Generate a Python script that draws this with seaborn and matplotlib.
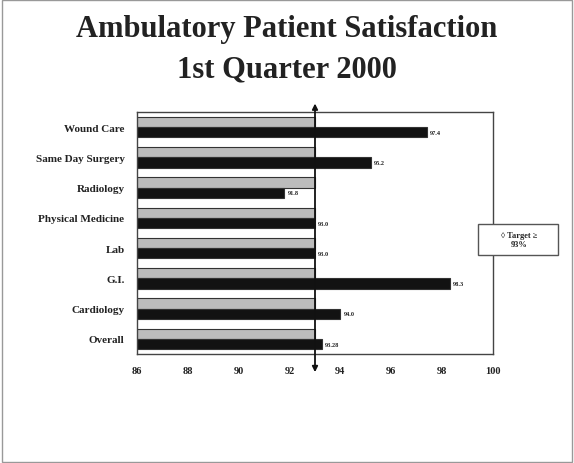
import matplotlib
matplotlib.use("Agg")
import matplotlib.pyplot as plt
import matplotlib.transforms as mtransforms
from matplotlib.patches import Rectangle
import seaborn as sns
import pandas as pd

categories = ["Wound Care", "Same Day Surgery", "Radiology", "Physical Medicine",
              "Lab", "G.I.", "Cardiology", "Overall"]
target_values = [93, 93, 93, 93, 93, 93, 93, 93]
actual_values = [97.4, 95.2, 91.8, 93.0, 93.0, 98.3, 94.0, 93.28]
actual_labels = ["97.4", "95.2", "91.8", "93.0", "93.0", "98.3", "94.0", "93.28"]
series_names = ["Target", "Actual"]
x_ticks = [86, 88, 90, 92, 94, 96, 98, 100]
target_line = 93

sns.set_theme(style="white")
plt.rcParams['font.family'] = ['Liberation Serif', 'DejaVu Serif']

df = pd.DataFrame({
    "category": categories * 2,
    "series": [series_names[0]] * len(categories) + [series_names[1]] * len(categories),
    "value": target_values + actual_values,
})

fig = plt.figure(figsize=(5.74, 4.64), dpi=100)
ax = fig.add_axes([137/574, 1-355/464, (493-137)/574, (355-113)/464])

sns.barplot(data=df, y="category", x="value", hue="series", order=categories,
            hue_order=series_names, palette=["#bcbcbc", "#121212"], orient="h",
            width=0.68, edgecolor="#333333", linewidth=0.8, ax=ax, legend=False)

ax.set_xlim(86, 100)
ax.set_xticks(x_ticks)
ax.set_xticklabels([str(t) for t in x_ticks], fontsize=7.5, fontweight="bold", color="#222222")
ax.set_yticklabels(categories, fontsize=8, fontweight="bold", color="#222222")
ax.set_xlabel("")
ax.set_ylabel("")
for s in ax.spines.values():
    s.set_color("#444444")
    s.set_linewidth(1.0)
ax.tick_params(axis="x", length=3, width=0.8, color="#666666", direction="in", pad=9)
ax.tick_params(axis="y", length=0, pad=9)
ax.set_yticks([i + 0.5 for i in range(-1, len(categories))], minor=True)
ax.tick_params(axis="y", which="minor", length=3, width=0.8, color="#666666", direction="in")

bars = ax.containers[1]
for rect, lab in zip(bars, actual_labels):
    ax.text(rect.get_width() + 0.12, rect.get_y() + rect.get_height()/2, lab,
            fontsize=4.5, fontweight="bold", va="center", ha="left", color="#222222")

trans = mtransforms.blended_transform_factory(ax.transData, ax.transAxes)
ax.annotate("", xy=(target_line, 1.035), xycoords=trans,
            xytext=(target_line, -0.075), textcoords=trans,
            arrowprops=dict(arrowstyle="<|-|>", color="#111111", lw=1.3,
                            mutation_scale=8, shrinkA=0, shrinkB=0),
            annotation_clip=False)

# legend box
fig.patches.append(Rectangle((478/574, 1-256/464), 80/574, 31/464, transform=fig.transFigure,
                             facecolor="white", edgecolor="#555555", lw=1.0, zorder=5))
fig.text(519/574, 1-236/464, "◊ Target ≥", fontsize=6, fontweight="bold",
         ha="center", va="center", color="#222222", zorder=6)
fig.text(519/574, 1-245/464, "93%", fontsize=6, fontweight="bold",
         ha="center", va="center", color="#222222", zorder=6)

fig.text(0.5, 1-30/464, "Ambulatory Patient Satisfaction", fontsize=22, fontweight="bold",
         ha="center", va="center", color="#222222")
fig.text(0.5, 1-70/464, "1st Quarter 2000", fontsize=22, fontweight="bold",
         ha="center", va="center", color="#222222")

fig.patches.append(Rectangle((0.003, 0.003), 0.994, 0.994, transform=fig.transFigure,
                             fill=False, edgecolor="#999999", lw=1.0))

fig.savefig("out.png", dpi=100)
